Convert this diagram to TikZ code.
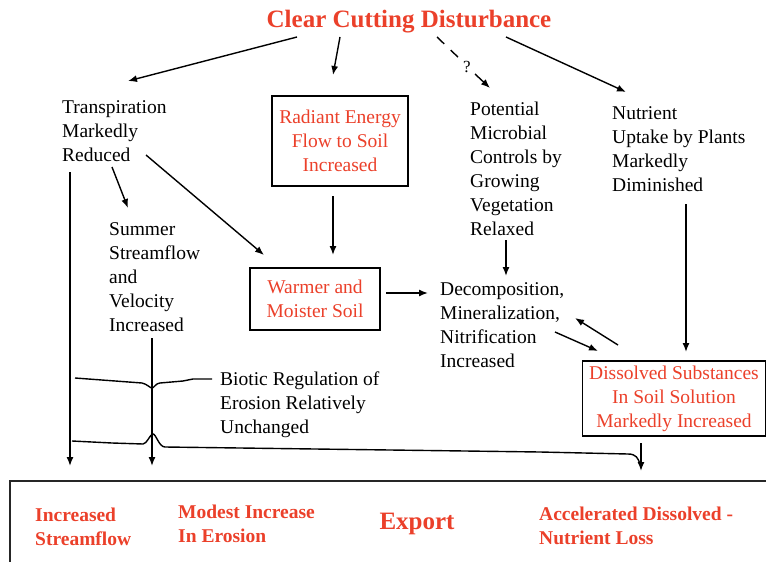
\documentclass[tikz,border=0pt]{standalone}
\usepackage{fontspec}
\newfontfamily\tnr{Liberation Serif}
\usetikzlibrary{arrows.meta}
\definecolor{rd}{RGB}{235,64,42}
\begin{document}
\begin{tikzpicture}[x=1pt,y=-1pt,
  txt/.style={font=\tnr\fontsize{19.5}{24}\selectfont, inner sep=0pt, align=left, anchor=west},
  rbox/.style={draw, line width=1.1pt, font=\tnr\fontsize{19.5}{24}\selectfont, text=rd, align=center, inner sep=0pt},
  btxt/.style={font=\tnr\bfseries\fontsize{19.5}{24}\selectfont, text=rd, inner sep=0pt, align=left, anchor=west},
  big/.style={font=\tnr\bfseries\fontsize{25}{30}\selectfont, text=rd, inner sep=0pt},
  arr/.style={-{Latex[length=9pt,width=7pt]}, line width=1.4pt},
  ln/.style={line width=1.4pt}]
\clip (0,0) rectangle (766,562);
\useasboundingbox (0,0) rectangle (766,562);

% title
\node[big] (title) at (409,22) {Clear Cutting Disturbance};

% text nodes
\node[txt] (trans) at (62,131) {Transpiration\\Markedly\\Reduced};
\node[rbox, minimum width=136pt, minimum height=90pt] (radiant) at (340,141) {Radiant Energy\\Flow to Soil\\Increased};
\node[txt] (potential) at (470,168.5) {Potential\\Microbial\\Controls by\\Growing\\Vegetation\\Relaxed};
\node[txt] (nutrient) at (612,149) {Nutrient\\Uptake by Plants\\Markedly\\Diminished};
\node[txt] (summer) at (109,277) {Summer\\Streamflow\\and\\Velocity\\Increased};
\node[rbox, minimum width=130pt, minimum height=62pt] (warmer) at (315,299) {Warmer and\\Moister Soil};
\node[txt] (decomp) at (440,325) {Decomposition,\\Mineralization,\\Nitrification\\Increased};
\node[rbox, minimum width=183pt, minimum height=75pt] (dissolved) at (674,398.5) {Dissolved Substances\\In Soil Solution\\Markedly Increased};
\node[txt] (biotic) at (220,405) {Biotic Regulation of\\Erosion Relatively\\Unchanged};

% export box
\draw[line width=2.2pt, draw=black!85] (10,481) rectangle (800,600);
\node[btxt] (incr) at (35,527) {Increased\\Streamflow};
\node[btxt] (modest) at (178,524) {Modest Increase\\In Erosion};
\node[big] (export) at (417,524) {Export};
\node[btxt] (accel) at (539,526) {Accelerated Dissolved -\\Nutrient Loss};

% connector end points
\coordinate (t1) at (297,37);
\coordinate (t2) at (340,37);
\coordinate (t3) at (437,37);
\coordinate (t4) at (506,37);
\coordinate (q1) at (461,60);
\coordinate (q2) at (475,74);
\coordinate (a1) at (128,81);
\coordinate (a2) at (333,75);
\coordinate (a3) at (490,88);
\coordinate (a4) at (626,92);

\draw[arr] (t1) -- (a1);
\draw[arr] (t2) -- (a2);
\draw[ln, dash pattern=on 10pt off 9pt] (t3) -- (q1);
\node[txt, anchor=center, font=\tnr\fontsize{17}{20}\selectfont] (qm) at (467,67) {?};
\draw[arr] (q2) -- (a3);
\draw[arr] (t4) -- (a4);

\draw[arr] (146,155) -- (264,255);
\draw[arr] (112,167) -- (128,208);
\draw[arr] (333,196) -- (333,255);
\draw[arr] (506,240) -- (506,276);
\draw[arr] (686,204) -- (686,352);
\draw[arr] (386,293) -- (428,293);
\draw[arr] (555,332) -- (598,351);
\draw[arr] (618,345) -- (575,318);
\draw[arr] (641,443) -- (641,471);

% vertical lines
\draw[arr] (70,172) -- (70,466);
\draw[arr] (152,338) -- (152,466);

% wavy lines
\draw[ln] (75,378) -- (142,383) .. controls (147,384) and (150,388) .. (152,388)
  .. controls (154,388) and (156,383) .. (160,383) -- (183,381) -- (193,379) -- (212,379);
\draw[ln] (72,441) -- (112,443) -- (143,444) .. controls (147,444) and (150,434) .. (153,434)
  .. controls (156,434) and (159,447) .. (165,447) -- (540,452) -- (628,454)
  .. controls (636,454) and (638,458) .. (640,464);
\end{tikzpicture}
\end{document}
